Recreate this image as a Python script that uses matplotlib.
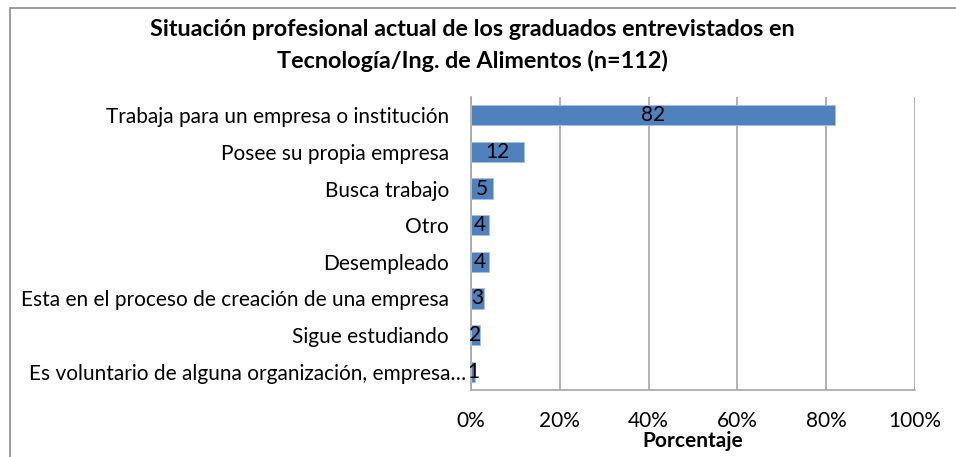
import matplotlib.pyplot as plt
from matplotlib.patches import Rectangle
from matplotlib.ticker import FuncFormatter
from matplotlib.transforms import ScaledTranslation

categorias = [
    "Trabaja para un empresa o institución",
    "Posee su propia empresa",
    "Busca trabajo",
    "Otro",
    "Desempleado",
    "Esta en el proceso de creación de una empresa",
    "Sigue estudiando",
    "Es voluntario de alguna organización, empresa…",
]
valores = [82, 12, 5, 4, 4, 3, 2, 1]
ticks_x = [0, 20, 40, 60, 80, 100]

plt.rcParams['font.family'] = ['Lato', 'DejaVu Sans']

fig = plt.figure(figsize=(9.56, 4.57), dpi=100)
W, H = 956, 457
ax = fig.add_axes([471 / W, 1 - 390 / H, (915 - 471) / W, (390 - 97) / H])

# marco exterior del gráfico
fig.patches.append(Rectangle((10 / W, -0.1), 1.2, 1 - 8 / H + 0.1,
                             transform=fig.transFigure, fill=False,
                             edgecolor='#8c8c8c', linewidth=1.2))

y = list(range(len(categorias)))
ax.barh(y, valores, height=0.55, color='#4f81bd', edgecolor='#a9c1e0',
        linewidth=0.6, zorder=3)
for yi, v in zip(y, valores):
    ax.text(v / 2, yi, str(v), ha='center', va='center', fontsize=15,
            color='black', zorder=4)

ax.set_yticks(y)
ax.set_yticklabels(categorias, fontsize=15)
ax.set_ylim(len(categorias) - 0.5, -0.5)
ax.set_xlim(0, 100)
ax.set_xticks(ticks_x)
ax.xaxis.set_major_formatter(FuncFormatter(lambda v, p: f"{int(v)}%"))
ax.tick_params(axis='x', labelsize=15, length=0, pad=15)
ax.tick_params(axis='y', length=0, pad=16)
# la etiqueta truncada queda más cerca del eje
ultima = ax.get_yticklabels()[-1]
ultima.set_transform(ultima.get_transform() + ScaledTranslation(0.17, 0, fig.dpi_scale_trans))
ax.grid(axis='x', color='#a6a6a6', linewidth=1.2, zorder=0)
for s in ['top', 'right']:
    ax.spines[s].set_visible(False)
for s in ['left', 'bottom']:
    ax.spines[s].set_color('#a6a6a6')
    ax.spines[s].set_linewidth(1.2)
ax.set_xlabel("Porcentaje", fontsize=15, fontweight='bold', labelpad=0)

fig.text(472 / W, 1 - 30 / H, "Situación profesional actual de los graduados entrevistados en",
         ha='center', va='center', fontsize=16.8, fontweight='bold')
fig.text(472 / W, 1 - 61 / H, "Tecnología/Ing. de Alimentos (n=112)",
         ha='center', va='center', fontsize=16.8, fontweight='bold')

fig.savefig('out.png', dpi=100)
